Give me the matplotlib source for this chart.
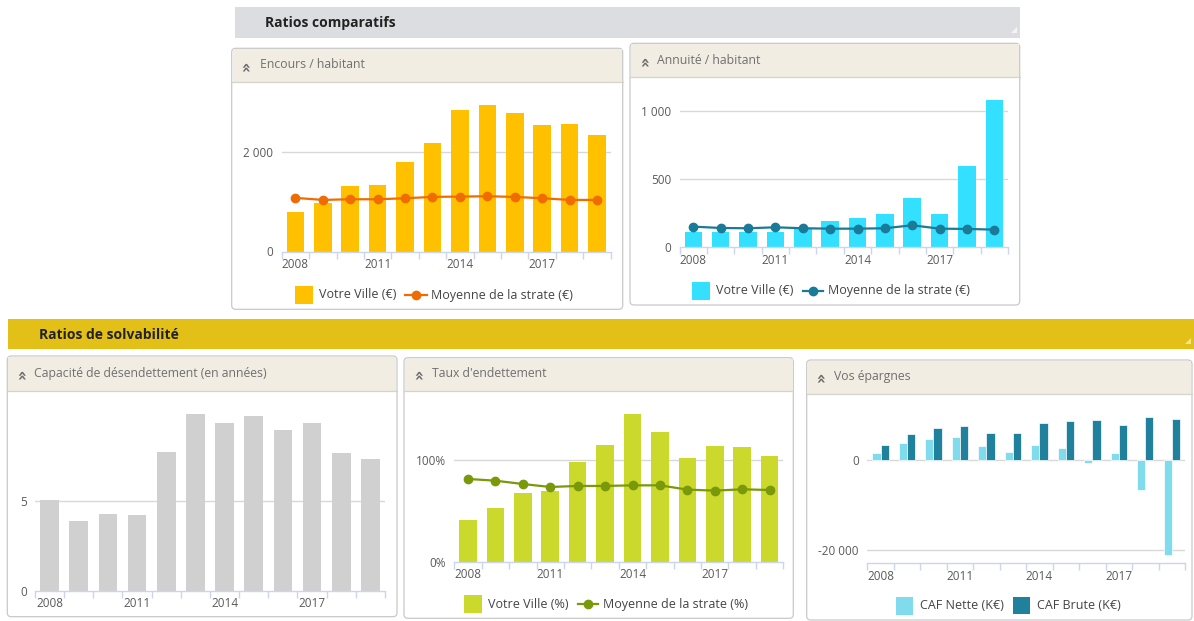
import numpy as np
import matplotlib
matplotlib.use('Agg')
import matplotlib.pyplot as plt
from matplotlib.patches import Rectangle, FancyBboxPatch, Polygon
from matplotlib.lines import Line2D
import matplotlib.transforms as mtransforms

plt.rcParams['font.family'] = ['Open Sans', 'DejaVu Sans']

# ---------------- data ----------------
years = list(range(2008, 2020))
year_labels = ['2008', '2011', '2014', '2017']

encours_ville = [792, 980, 1309, 1329, 1799, 2174, 2832, 2926, 2785, 2530, 2550, 2336]
encours_strate = [1074, 1034, 1047, 1047, 1067, 1094, 1101, 1107, 1094, 1067, 1034, 1034]

annuite_ville = [115, 115, 115, 115, 135, 194, 218, 245, 365, 245, 598, 1081]
annuite_strate = [152, 142, 140, 147, 140, 137, 137, 140, 162, 137, 135, 130]

capacite = [5.06, 3.89, 4.28, 4.22, 7.74, 9.85, 9.35, 9.72, 8.94, 9.35, 7.67, 7.33]

taux_ville = [41.4, 53.0, 68.1, 69.4, 98.0, 115.5, 145.4, 128.0, 102.6, 114.5, 113.2, 104.0]
taux_strate = [81.6, 79.9, 76.6, 73.7, 74.7, 74.7, 75.3, 75.3, 71.1, 70.1, 71.4, 70.7]

caf_nette = [1630, 3926, 4741, 5259, 3185, 1852, 3481, 2667, -519, 1630, -6667, -21111]
caf_brute = [3481, 5778, 7111, 7630, 6074, 6074, 8370, 8667, 8889, 7926, 9704, 9185]

# ---------------- figure ----------------
W, H = 1194, 621
fig = plt.figure(figsize=(W / 100, H / 100), dpi=100)
fig.patch.set_facecolor('white')
# pixel transform (origin top-left, y downward)
T = mtransforms.Affine2D().scale(1 / W, -1 / H).translate(0, 1) + fig.transFigure

AXIS_C = '#ccd6eb'
GRID_C = '#d8d8d8'
LABEL_C = '#5a5a5a'
TITLE_C = '#707070'
LEG_C = '#444444'


def header(x0, y0, x1, y1, color, text, tx, grip):
    fig.patches.append(Rectangle((x0, y0), x1 - x0, y1 - y0, transform=T,
                                 facecolor=color, edgecolor='none', zorder=0))
    fig.text(tx, (y0 + y1) / 2 + 1, text, transform=T, fontsize=10,
             fontweight='bold', color='#222222', va='center', ha='left')
    gx, gy = x1 - 8, y1 - 7
    fig.patches.append(Polygon([(gx + 5, gy - 4), (gx + 5, gy + 2), (gx - 1, gy + 2)],
                               closed=True, transform=T, facecolor=grip,
                               edgecolor='none', zorder=1))


def panel(x0, y0, x1, y1, tb, title, ix, tx, ty):
    fig.patches.append(FancyBboxPatch((x0, y0), x1 - x0, y1 - y0,
                                      boxstyle='round,pad=0,rounding_size=4',
                                      transform=T, facecolor='white',
                                      edgecolor='#c9c9c9', lw=0.9, zorder=0))
    fig.patches.append(Rectangle((x0 + 0.8, y0 + 0.8), x1 - x0 - 1.6, tb - y0 - 0.8,
                                 transform=T, facecolor='#f1ede2',
                                 edgecolor='none', zorder=0.5))
    fig.lines.append(Line2D([x0, x1], [tb, tb], transform=T, color='#d6d3cb',
                            lw=0.9, zorder=0.6))
    fig.text(ix, ty + 0.5, '»', transform=T, rotation=90, fontsize=11.5,
             fontweight='bold', color='#6a6a6a', va='center', ha='center',
             family='DejaVu Sans', zorder=1)
    fig.text(tx, ty, title, transform=T, fontsize=8.8, color=TITLE_C,
             va='center', ha='left', zorder=1)


def make_axes(x0, x1, ytop, ybot):
    r = [x0 / W, 1 - ybot / H, (x1 - x0) / W, (ybot - ytop) / H]
    ax = fig.add_axes(r)
    ax.set_zorder(5)
    ax.set_facecolor('none')
    for s in ['top', 'right', 'left']:
        ax.spines[s].set_visible(False)
    ax.spines['bottom'].set_color(AXIS_C)
    ax.spines['bottom'].set_linewidth(1.0)
    ax.spines['bottom'].set_zorder(4)
    ax.set_xlim(-0.5, len(years) - 0.5)
    ax.set_xticks([years.index(int(y)) for y in year_labels])
    ax.set_xticklabels(year_labels)
    ax.set_xticks(np.arange(len(years) + 1) - 0.5, minor=True)
    ax.tick_params(axis='x', which='major', length=0, pad=4.5, labelsize=8.5,
                   labelcolor=LABEL_C)
    ax.tick_params(axis='x', which='minor', length=5, width=1.0, color=AXIS_C)
    ax.tick_params(axis='y', length=0, pad=6, labelsize=8.5, labelcolor=LABEL_C)
    ax.set_axisbelow(True)
    return ax


def ylim_from(ax, ytop, ybot, y_zero_px, y_ref_px, ref_val):
    per_px = ref_val / (y_zero_px - y_ref_px)
    lo = (y_zero_px - ybot) * per_px
    hi = (y_zero_px - ytop) * per_px
    ax.set_ylim(lo, hi)


def grid(ax, vals):
    for v in vals:
        ax.axhline(v, color=GRID_C, lw=1.0, zorder=0.5)


def leg_square(x0, x1, yc, color, text, tx):
    h = x1 - x0
    fig.patches.append(Rectangle((x0, yc - h / 2), h, h, transform=T,
                                 facecolor=color, edgecolor='none', zorder=1))
    fig.text(tx, yc, text, transform=T, fontsize=9, color=LEG_C,
             va='center', ha='left', zorder=1)


def leg_line(x0, x1, yc, color, text, tx):
    fig.lines.append(Line2D([x0, x1], [yc, yc], transform=T, color=color, lw=1.6,
                            zorder=1))
    fig.lines.append(Line2D([(x0 + x1) / 2], [yc], transform=T, color=color,
                            marker='o', markersize=6, lw=0, zorder=1))
    fig.text(tx, yc, text, transform=T, fontsize=9, color=LEG_C,
             va='center', ha='left', zorder=1)


x = np.arange(len(years))

# ---------------- headers ----------------
header(235, 7, 1020, 38, '#dcdde0', 'Ratios comparatifs', 265, '#f4f4f4')
header(8, 319, 1194, 349, '#e3c017', 'Ratios de solvabilité', 39, '#f3e590')

# ---------------- Encours / habitant ----------------
panel(231.7, 48.3, 622.7, 309.3, 82.3, 'Encours / habitant', 246, 259.5, 65)
ax = make_axes(281.7, 610.7, 84, 251.5)
ylim_from(ax, 84, 251.5, 251.5, 151.7, 2000)
grid(ax, [2000])
ax.bar(x, encours_ville, width=0.64, color='#ffc000', zorder=2)
ax.plot(x, encours_strate, color='#f06c00', lw=1.6, marker='o', markersize=6, zorder=3)
ax.set_yticks([0, 2000])
ax.set_yticklabels(['0', '2 000'])
leg_square(295, 312.7, 295, '#ffc000', 'Votre Ville (€)', 319.3)
leg_line(405, 426.7, 295, '#f06c00', 'Moyenne de la strate (€)', 431)

# ---------------- Annuité / habitant ----------------
panel(630, 43.3, 1019.7, 305, 76.7, 'Annuité / habitant', 644.7, 657, 60.7)
ax = make_axes(679.7, 1008, 78, 247.3)
ylim_from(ax, 78, 247.3, 247.3, 111.3, 1000)
grid(ax, [500, 1000])
ax.bar(x, annuite_ville, width=0.64, color='#33e0ff', zorder=2)
ax.plot(x, annuite_strate, color='#1b7a98', lw=1.6, marker='o', markersize=6, zorder=3)
ax.set_yticks([0, 500, 1000])
ax.set_yticklabels(['0', '500', '1 000'])
leg_square(692.3, 710, 290.7, '#33e0ff', 'Votre Ville (€)', 716.3)
leg_line(803, 823, 290.7, '#1b7a98', 'Moyenne de la strate (€)', 828)

# ---------------- Capacité de désendettement ----------------
panel(7.3, 356, 397, 616.7, 391, 'Capacité de désendettement (en années)', 21.7, 34, 373.3)
ax = make_axes(35, 385, 392, 591)
ylim_from(ax, 392, 591, 591, 501, 5)
grid(ax, [5])
ax.bar(x, capacite, width=0.64, color='#d0d0d0', zorder=2)
ax.set_yticks([0, 5])
ax.set_yticklabels(['0', '5'])

# ---------------- Taux d'endettement ----------------
panel(404, 357.7, 793.3, 618.3, 390.7, "Taux d'endettement", 419.3, 431.5, 373.3)
ax = make_axes(454.3, 783.3, 392, 561.7)
ylim_from(ax, 392, 561.7, 561.7, 460.3, 100)
grid(ax, [100])
ax.bar(x, taux_ville, width=0.64, color='#cbd82c', zorder=2)
ax.plot(x, taux_strate, color='#7a990a', lw=1.6, marker='o', markersize=6, zorder=3)
ax.set_yticks([0, 100])
ax.set_yticklabels(['0%', '100%'])
leg_square(464.3, 482.3, 604.3, '#cbd82c', 'Votre Ville (%)', 488.3)
leg_line(578.3, 598.3, 604.3, '#7a990a', 'Moyenne de la strate (%)', 603.3)

# ---------------- Vos épargnes ----------------
panel(806.7, 360, 1192, 620, 394, 'Vos épargnes', 820.7, 834, 376.7)
ax = make_axes(867.3, 1185, 395, 563.3)
ylim_from(ax, 395, 563.3, 460.3, 550.3, -20000)
grid(ax, [0, -20000])
ax.bar(x - 0.155, caf_nette, width=0.31, color='#80dcec', edgecolor='white',
       lw=0.5, zorder=2)
ax.bar(x + 0.155, caf_brute, width=0.31, color='#1f819c', edgecolor='white',
       lw=0.5, zorder=2)
ax.set_yticks([-20000, 0])
ax.set_yticklabels(['-20 000', '0'])
leg_square(895.7, 913.3, 605.7, '#80dcec', 'CAF Nette (K€)', 920)
leg_square(1012.7, 1030, 605.7, '#1f819c', 'CAF Brute (K€)', 1037.3)

fig.savefig('out.png', dpi=100, facecolor='white')
